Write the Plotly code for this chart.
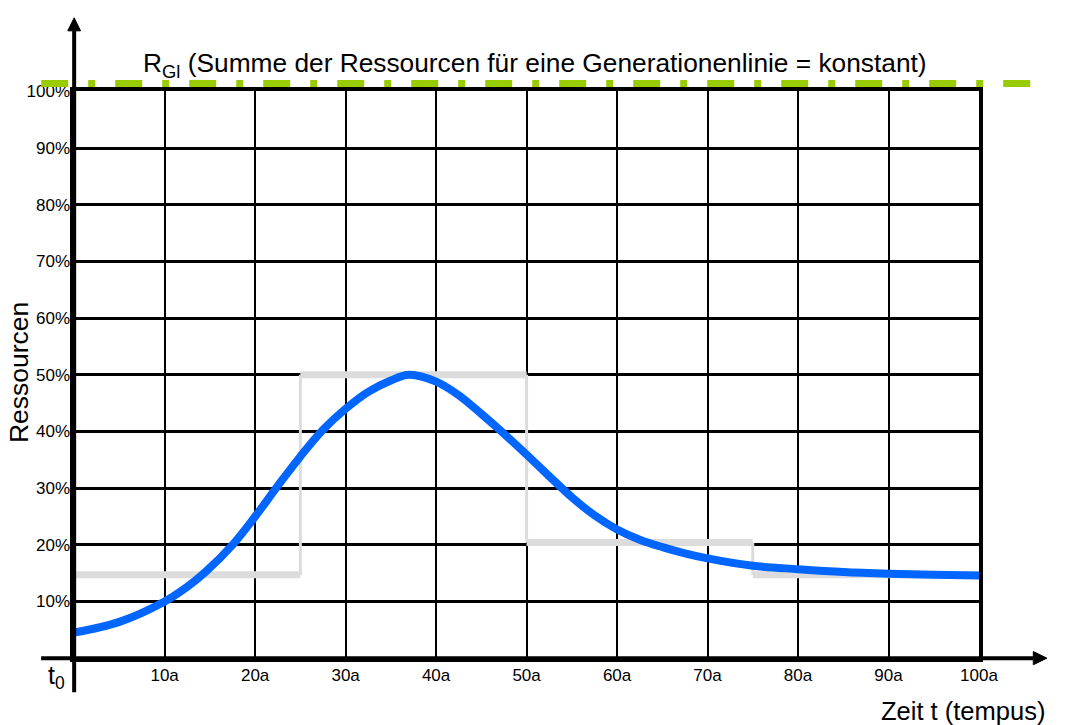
import plotly.graph_objects as go

# ---------------- data ----------------
curve_t = [0, 5, 10, 12.5, 14.5, 17.5, 20, 22.5, 25, 27.5, 30, 32.5, 35, 37, 40, 42.5, 45, 47.5,
           50, 52.5, 55, 57.5, 60, 62.5, 65, 67.5, 70, 75, 80, 85, 90, 95, 100]
curve_r = [4.5, 6.4, 10.0, 12.6, 15.2, 20.0, 25.0, 30.4, 35.6, 40.3, 44.0, 47.0, 49.0, 50.0, 48.8, 46.4,
           43.1, 39.6, 35.9, 32.1, 28.4, 25.2, 22.7, 20.9, 19.6, 18.5, 17.6, 16.3, 15.7, 15.2, 14.9, 14.7, 14.6]

step_edges = [0, 25, 50, 75, 100]
step_levels = [14.7, 50.0, 20.4, 14.7]

constant_level = 101.4          # R_Gl line (%)
x_ticks = [10, 20, 30, 40, 50, 60, 70, 80, 90, 100]
x_ticktext = ["10a", "20a", "30a", "40a", "50a", "60a", "70a", "80a", "90a", "100a"]
y_ticks = [10, 20, 30, 40, 50, 60, 70, 80, 90, 100]
y_ticktext = ["10%", "20%", "30%", "40%", "50%", "60%", "70%", "80%", "90%", "100%"]

title_text = "R<sub>Gl</sub> (Summe der Ressourcen für eine Generationenlinie = konstant)"
y_title = "Ressourcen"
x_title = "Zeit t (tempus)"
origin_label = "t<sub>0</sub>"

# axis arrows / extents (in data units)
x_axis_extent = [-3.65, 106.0]
y_axis_extent = [-6.0, 110.7]
x_arrow_tip = 107.5
y_arrow_tip = 113.0
const_extent = [-3.64, 106.4]

# ---------------- layout geometry ----------------
W, H = 1071, 725
px0, px100 = 75.5, 996.7       # x pixel of t=0 and t=100
py0, py100 = 657.3, 83.5       # y pixel of 0% and 100%
sx = (px100 - px0) / 100.0
sy = (py0 - py100) / 100.0
x2_range = [-px0 / sx, (W - px0) / sx]
y2_range = [-(H - py0) / sy, py0 / sy]

FONT = "Liberation Sans, Arial, Helvetica, sans-serif"

fig = go.Figure()

# grey step (horizontal bands + thin verticals)
hx, hy, vx, vy = [], [], [], []
for i, lvl in enumerate(step_levels):
    hx += [step_edges[i], step_edges[i + 1], None]
    hy += [lvl, lvl, None]
    if i > 0:
        vx += [step_edges[i], step_edges[i], None]
        vy += [step_levels[i - 1], lvl, None]
fig.add_trace(go.Scatter(x=vx, y=vy, mode="lines", line=dict(color="#dcdcdc", width=3),
                         hoverinfo="skip", showlegend=False))
fig.add_trace(go.Scatter(x=hx, y=hy, mode="lines", line=dict(color="#dcdcdc", width=7),
                         hoverinfo="skip", showlegend=False))

# blue curve
fig.add_trace(go.Scatter(x=curve_t, y=curve_r, mode="lines",
                         line=dict(color="#0066ff", width=8, shape="spline", smoothing=1.0),
                         showlegend=False))

# overlay subplot: arrows and constant line
fig.add_trace(go.Scatter(x=const_extent, y=[constant_level, constant_level], mode="lines",
                         line=dict(color="#99cc00", width=7, dash="27px,20px,7px,20px"),
                         xaxis="x2", yaxis="y2", showlegend=False, hoverinfo="skip"))
fig.add_trace(go.Scatter(x=x_axis_extent, y=[0, 0], mode="lines",
                         line=dict(color="black", width=4),
                         xaxis="x2", yaxis="y2", showlegend=False, hoverinfo="skip"))
fig.add_trace(go.Scatter(x=[0, 0], y=y_axis_extent, mode="lines",
                         line=dict(color="black", width=4),
                         xaxis="x2", yaxis="y2", showlegend=False, hoverinfo="skip"))
# arrowheads
hw_x = 6.7 / sy
hw_y = 6.5 / sx
fig.add_trace(go.Scatter(x=[x_axis_extent[1], x_arrow_tip, x_axis_extent[1], x_axis_extent[1]],
                         y=[hw_x, 0, -hw_x, hw_x], mode="lines", fill="toself",
                         fillcolor="black", line=dict(color="black", width=1),
                         xaxis="x2", yaxis="y2", showlegend=False, hoverinfo="skip"))
fig.add_trace(go.Scatter(x=[-hw_y, 0, hw_y, -hw_y],
                         y=[y_axis_extent[1], y_arrow_tip, y_axis_extent[1], y_axis_extent[1]],
                         mode="lines", fill="toself",
                         fillcolor="black", line=dict(color="black", width=1),
                         xaxis="x2", yaxis="y2", showlegend=False, hoverinfo="skip"))

annotations = [
    dict(text=title_text, x=(545 - px0) / sx, y=(py0 - 57) / sy, xref="x2", yref="y2",
         showarrow=False, font=dict(size=26.3, family=FONT, color="black"),
         xanchor="center", yanchor="middle"),
    dict(text=y_title, x=(20 - px0) / sx, y=(py0 - 368) / sy, xref="x2", yref="y2",
         showarrow=False, textangle=-90, font=dict(size=26.5, family=FONT, color="black"),
         xanchor="center", yanchor="middle"),
    dict(text=x_title, x=(1066 - px0) / sx, y=(py0 - 711) / sy, xref="x2", yref="y2",
         showarrow=False, font=dict(size=25.5, family=FONT, color="black"),
         xanchor="right", yanchor="middle"),
    dict(text=origin_label, x=(58 - px0) / sx, y=(py0 - 676) / sy, xref="x2", yref="y2",
         showarrow=False, font=dict(size=25, family=FONT, color="black"),
         xanchor="center", yanchor="middle"),
]

fig.update_layout(
    width=W, height=H,
    margin=dict(l=0, r=0, t=0, b=0, pad=0),
    paper_bgcolor="white", plot_bgcolor="rgba(0,0,0,0)",
    showlegend=False,
    xaxis=dict(domain=[px0 / W, px100 / W], range=[0, 100], tickvals=x_ticks, ticktext=x_ticktext,
               showgrid=True, gridcolor="black", gridwidth=1.5, zeroline=False,
               showline=True, mirror=True, linecolor="black", linewidth=3.5,
               ticks="", tickfont=dict(size=17, family=FONT, color="black"),
               ticklabelstandoff=-1, fixedrange=True),
    yaxis=dict(domain=[(H - py0) / H, (H - py100) / H], range=[0, 100], tickvals=y_ticks,
               ticktext=y_ticktext,
               showgrid=True, gridcolor="black", gridwidth=3.3, zeroline=False,
               showline=True, mirror=True, linecolor="black", linewidth=3.5,
               ticks="", tickfont=dict(size=17, family=FONT, color="black"),
               ticklabelstandoff=-3, fixedrange=True),
    xaxis2=dict(domain=[0, 1], range=x2_range, anchor="y2", visible=False, fixedrange=True),
    yaxis2=dict(domain=[0, 1], range=y2_range, anchor="x2", visible=False, fixedrange=True),
    annotations=annotations,
)

post = ("document.documentElement.style.margin='0';document.body.style.margin='0';"
        "document.body.style.overflow='hidden';")
fig.write_html("out.html", config={"displayModeBar": False}, post_script=post)
